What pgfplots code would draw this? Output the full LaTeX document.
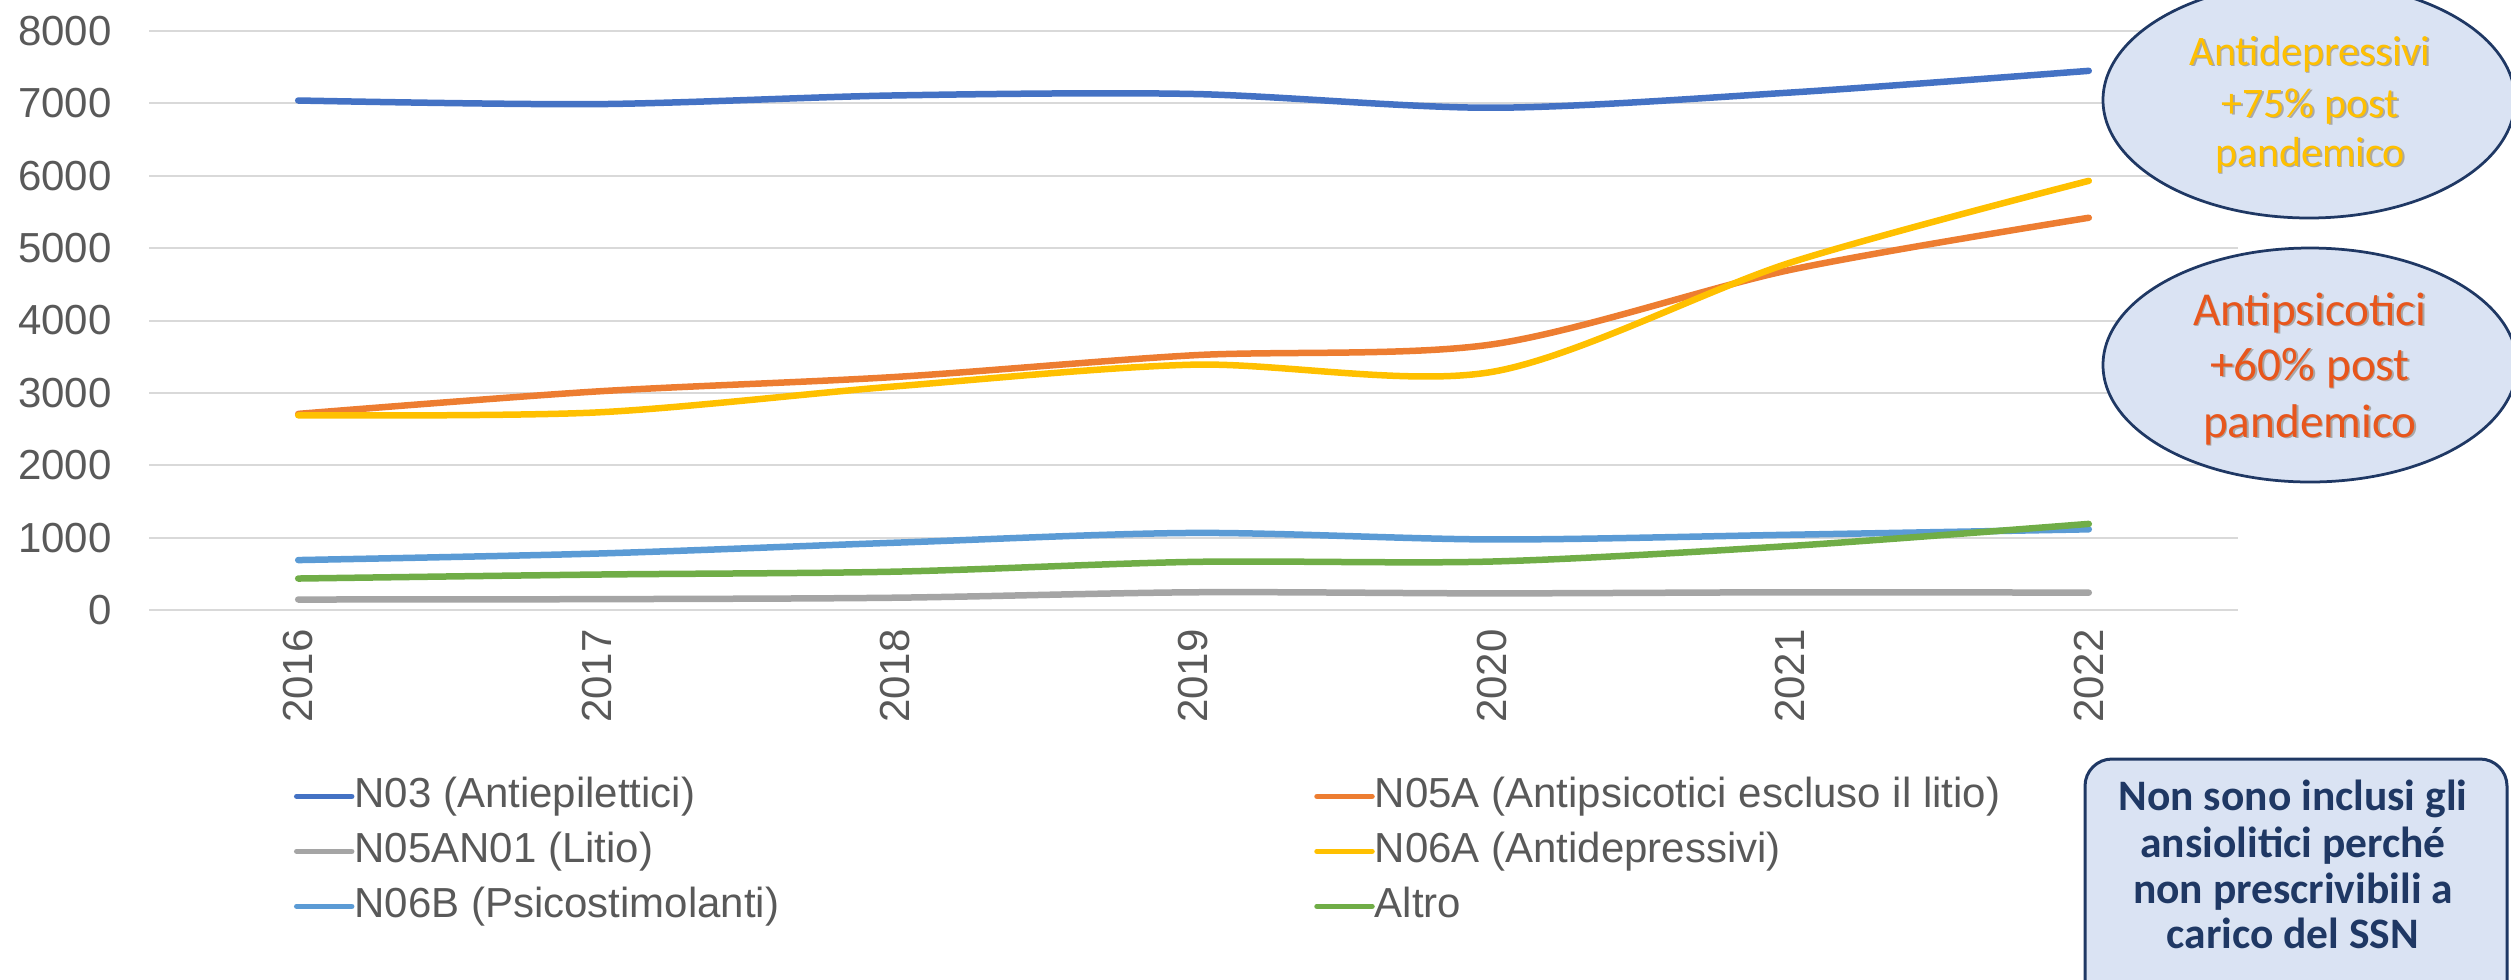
\documentclass[border=0pt]{standalone}
\usepackage{fontspec}
\setmainfont{Liberation Sans}
\newfontfamily\calibri{Carlito}
\usepackage{pgfplots}
\pgfplotsset{compat=1.18}
\definecolor{cA}{HTML}{4472C4}
\definecolor{cB}{HTML}{ED7D31}
\definecolor{cC}{HTML}{A5A5A5}
\definecolor{cD}{HTML}{FFC000}
\definecolor{cE}{HTML}{5B9BD5}
\definecolor{cF}{HTML}{70AD47}
\definecolor{txt}{HTML}{595959}
\definecolor{gridc}{HTML}{D9D9D9}
\definecolor{boxfill}{HTML}{DAE3F3}
\definecolor{navy}{HTML}{1F3864}
\definecolor{redor}{HTML}{E8561C}
\definecolor{shad}{HTML}{A8A8A8}
\newcommand\shadowtext[3]{%
  \node[text=shad] at ([xshift=0.7pt,yshift=-0.7pt]#1) {#3};
  \node[text=#2] at (#1) {#3};}
\begin{document}
\begin{tikzpicture}
\path[use as bounding box] (0,0) rectangle (1004.4pt,-391.6pt);
\begin{axis}[
  at={(59.6pt,-244pt)}, anchor=south west,
  scale only axis, width=835.6pt, height=231.6pt,
  xmin=-0.5, xmax=6.5, ymin=0, ymax=8000,
  xtick={0,1,2,3,4,5,6},
  xticklabels={2016,2017,2018,2019,2020,2021,2022},
  ytick={0,1000,...,8000},
  scaled y ticks=false,
  /pgf/number format/1000 sep={},
  /pgf/number format/assume math mode=true,
  axis line style={draw=none},
  major tick length=0pt,
  xmajorgrids=false,
  ymajorgrids=true,
  y grid style={draw=gridc, line width=0.8pt},
  tick label style={font=\fontsize{16.8}{20}\selectfont, text=txt},
  xticklabel style={rotate=90, anchor=east, inner sep=0pt},
  yticklabel style={anchor=east, inner sep=0pt},
  xticklabel shift=7.6pt,
  yticklabel shift=14.8pt,
  every axis plot/.append style={line width=2.6pt, line cap=round, smooth, tension=0.5},
  legend columns=2,
  legend cell align=left,
  legend image code/.code={\draw[#1, line width=2.2pt, line cap=round] (0pt,0pt) -- (22pt,0pt);},
  legend style={at={(0.0694,-0.2884)}, anchor=north west, draw=none, fill=none,
    inner sep=0pt, outer sep=0pt, row sep=6.5pt,
    font=\fontsize{16.8}{20}\selectfont, text=txt,
    nodes={inner sep=0pt, text height=12pt, text depth=3.5pt},
    /tikz/every even column/.append style={column sep=214pt}},
]
\addplot[cA] coordinates {(0,7040) (1,6990) (2,7110) (3,7130) (4,6940) (5,7150) (6,7450)};
\addlegendentry{N03 (Antiepilettici)}
\addplot[cB] coordinates {(0,2710) (1,3020) (2,3220) (3,3520) (4,3670) (5,4700) (6,5420)};
\addlegendentry{N05A (Antipsicotici escluso il litio)}
\addplot[cC] coordinates {(0,145) (1,150) (2,170) (3,245) (4,230) (5,245) (6,240)};
\addlegendentry{N05AN01 (Litio)}
\addplot[cD] coordinates {(0,2690) (1,2730) (2,3090) (3,3390) (4,3290) (5,4800) (6,5930)};
\addlegendentry{N06A (Antidepressivi)}
\addplot[cE] coordinates {(0,690) (1,780) (2,930) (3,1065) (4,975) (5,1040) (6,1115)};
\addlegendentry{N06B (Psicostimolanti)}
\addplot[cF] coordinates {(0,435) (1,490) (2,530) (3,665) (4,670) (5,885) (6,1190)};
\addlegendentry{Altro}
\end{axis}
% callout ellipses
\draw[navy, line width=1.1pt, fill=boxfill] (923.6pt,-40pt) ellipse [x radius=82.4pt, y radius=47.2pt];
\draw[navy, line width=1.1pt, fill=boxfill] (924pt,-146pt) ellipse [x radius=82.8pt, y radius=46.8pt];
\begin{scope}[every node/.style={anchor=base, inner sep=0pt, font=\calibri\fontsize{16.8}{20}\selectfont}]
\shadowtext{924pt,-26pt}{cD}{Antidepressivi}
\shadowtext{924pt,-46.8pt}{cD}{+75\% post}
\shadowtext{924pt,-66.4pt}{cD}{pandemico}
\end{scope}
\begin{scope}[every node/.style={anchor=base, inner sep=0pt, font=\calibri\fontsize{18.9}{23}\selectfont}]
\shadowtext{924pt,-130pt}{redor}{Antipsicotici}
\shadowtext{924pt,-152pt}{redor}{+60\% post}
\shadowtext{924pt,-174.8pt}{redor}{pandemico}
\end{scope}
% note box
\draw[navy, line width=1.2pt, fill=boxfill, rounded corners=10.8pt] (834pt,-410pt) rectangle (1002.8pt,-303.6pt);
\begin{scope}[every node/.style={anchor=base, inner sep=0pt, font=\calibri\bfseries\fontsize{17.4}{21}\selectfont, text=navy}]
\node at (917.2pt,-324pt) {Non sono inclusi gli};
\node at (917.2pt,-342.8pt) {ansiolitici perché};
\node at (917.2pt,-361.2pt) {non prescrivibili a};
\node at (917.2pt,-379.2pt) {carico del SSN};
\end{scope}
\end{tikzpicture}
\end{document}
